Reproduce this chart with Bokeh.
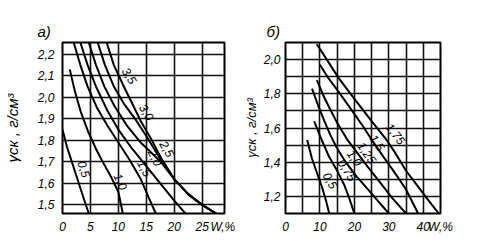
from bokeh.plotting import figure
from bokeh.layouts import row
from bokeh.models import FixedTicker, CustomJSTickFormatter
from bokeh.embed import file_html
from bokeh.resources import INLINE
from bokeh.core.properties import value
import math

FONT = "Liberation Sans"

# ---------------- panel a) ----------------
a_x_ticks = [0, 5, 10, 15, 20, 25]
a_y_ticks = [1.5, 1.6, 1.7, 1.8, 1.9, 2.0, 2.1, 2.2]

a05_w = [0, 0.8, 1.8, 2.8, 3.8, 4.7]
a05_g = [1.85, 1.77, 1.69, 1.61, 1.53, 1.46]
a10_w = [1.3, 2.2, 3.3, 4.6, 6.0, 7.2, 8.7, 10.0, 10.8]
a10_g = [2.13, 2.03, 1.93, 1.84, 1.76, 1.70, 1.63, 1.56, 1.46]
a15_w = [2.0, 3.2, 4.5, 6.2, 8.0, 10.0, 12.0, 14.0, 15.5, 16.7]
a15_g = [2.255, 2.15, 2.05, 1.95, 1.87, 1.79, 1.71, 1.62, 1.53, 1.46]
a20_w = [3.2, 4.5, 6.0, 8.0, 10.0, 12.5, 15.0, 17.5, 20.0, 22.0]
a20_g = [2.255, 2.15, 2.05, 1.94, 1.85, 1.76, 1.68, 1.60, 1.52, 1.46]
a25_w = [4.7, 6.0, 7.5, 9.3, 11.5, 14.0, 16.0, 17.6, 20.0, 22.5, 25.0, 27.5]
a25_g = [2.255, 2.15, 2.05, 1.96, 1.87, 1.79, 1.74, 1.70, 1.62, 1.55, 1.50, 1.46]
a30_w = [6.3, 7.6, 9.2, 11.0, 13.0, 15.0, 17.6, 20.0, 22.5, 25.0, 27.5]
a30_g = [2.255, 2.15, 2.05, 1.97, 1.90, 1.82, 1.71, 1.62, 1.55, 1.50, 1.46]
a35_w = [7.9, 9.2, 10.8, 12.5, 14.0, 16.0, 17.6, 20.0, 22.5, 25.0, 27.5]
a35_g = [2.255, 2.15, 2.06, 1.97, 1.89, 1.80, 1.72, 1.62, 1.55, 1.50, 1.46]

a_lab_text = ["0,5", "1,0", "1,5", "2,0", "2,5", "3,0", "3,5"]
a_lab_w = [3.1, 9.7, 14.0, 15.9, 18.0, 14.4, 11.3]
a_lab_g = [1.66, 1.60, 1.66, 1.71, 1.75, 1.92, 2.09]
a_lab_ang = [-72, -66, -62, -62, -60, -58, -58]

# ---------------- panel б) ----------------
b_x_ticks = [0, 10, 20, 30, 40]
b_x_minor = [5, 15, 25, 35, 45]
b_y_ticks = [1.2, 1.4, 1.6, 1.8, 2.0]
b_y_minor = [1.1, 1.3, 1.5, 1.7, 1.9, 2.1]

b050_w = [6.3, 7.7, 9.1, 10.5, 11.7, 12.7]
b050_g = [1.53, 1.42, 1.34, 1.26, 1.18, 1.10]
b075_w = [8.3, 10.5, 12.7, 15.0, 17.0, 18.5, 20.0]
b075_g = [1.64, 1.53, 1.43, 1.35, 1.27, 1.19, 1.10]
b100_w = [7.7, 9.5, 11.3, 13.0, 15.0, 17.5, 20.5, 24.0, 27.0, 30.0]
b100_g = [1.83, 1.73, 1.64, 1.56, 1.48, 1.40, 1.32, 1.24, 1.17, 1.10]
b125_w = [9.1, 11.0, 12.7, 15.0, 18.0, 21.0, 24.0, 27.5, 31.0, 35.0]
b125_g = [1.88, 1.79, 1.72, 1.63, 1.53, 1.45, 1.37, 1.28, 1.19, 1.10]
b150_w = [10.0, 12.5, 15.5, 19.0, 22.5, 25.4, 28.5, 32.0, 35.0, 38.5]
b150_g = [1.97, 1.89, 1.81, 1.71, 1.61, 1.52, 1.43, 1.33, 1.24, 1.10]
b175_w = [9.1, 12.0, 15.5, 20.0, 25.0, 29.0, 32.0, 35.0, 38.0, 41.0, 44.5]
b175_g = [2.09, 2.00, 1.89, 1.77, 1.64, 1.54, 1.45, 1.35, 1.27, 1.19, 1.10]

b_lab_text = ["0,5", "0,75", "1,0", "1,25", "1,5", "1,75"]
b_lab_w = [11.9, 16.8, 19.0, 22.6, 25.6, 31.0]
b_lab_g = [1.28, 1.34, 1.41, 1.44, 1.50, 1.55]
b_lab_ang = [-60, -57, -55, -55, -55, -52]

Y_TITLE = "γск , г/см³"
X_TITLE = "W,%"


def style(p):
    p.background_fill_color = "white"
    p.border_fill_color = "white"
    p.outline_line_color = "black"
    p.outline_line_width = 2
    for ax in (p.xaxis, p.yaxis):
        ax.axis_line_color = None
        ax.major_tick_line_color = None
        ax.minor_tick_line_color = None
        ax.major_tick_out = 0
        ax.major_tick_in = 0
        ax.minor_tick_out = 0
        ax.minor_tick_in = 0
        ax.major_label_text_font = FONT
        ax.major_label_text_font_style = "italic"
        ax.major_label_text_font_size = "12px"
        ax.major_label_text_color = "black"
        ax.axis_label_text_font = FONT
        ax.axis_label_text_font_style = "italic"
        ax.axis_label_text_color = "black"
    p.xaxis.major_label_standoff = 6
    p.yaxis.major_label_standoff = 8
    for g in (p.xgrid, p.ygrid):
        g.grid_line_color = "#111111"
        g.grid_line_width = 1.6
        g.minor_grid_line_color = "#111111"
        g.minor_grid_line_width = 1.6
    p.title.text_font = FONT
    p.title.text_font_style = "italic"
    p.title.text_font_size = "15px"
    p.title.text_color = "black"
    p.title.align = "left"
    p.title.standoff = 6


# ---------- figure a ----------
pa = figure(width=240, height=245, x_range=(0, 29), y_range=(1.46, 2.255),
            output_backend="svg", toolbar_location=None, title="a)",
            min_border_left=62, min_border_right=16, min_border_top=42,
            min_border_bottom=30)
style(pa)
pa.title.offset = -25
gx = FixedTicker(ticks=a_x_ticks)
ty = FixedTicker(ticks=a_y_ticks)
pa.xaxis.ticker = FixedTicker(ticks=a_x_ticks + [28.7])
pa.xaxis.formatter = CustomJSTickFormatter(
    args=dict(t=X_TITLE),
    code="return tick > 27 ? t : tick.toFixed(0);")
pa.yaxis.ticker = ty
pa.xgrid.ticker = gx
pa.ygrid.ticker = ty
pa.yaxis.formatter = CustomJSTickFormatter(code="return tick.toFixed(1).replace('.', ',');")
pa.yaxis.axis_label = Y_TITLE
pa.yaxis.axis_label_text_font_size = "15px"
pa.yaxis.axis_label_standoff = 14

for w, g in [(a05_w, a05_g), (a10_w, a10_g), (a15_w, a15_g), (a20_w, a20_g),
             (a25_w, a25_g), (a30_w, a30_g), (a35_w, a35_g)]:
    pa.line(w, g, line_color="black", line_width=2)

pa.text(x=a_lab_w, y=a_lab_g, text=a_lab_text,
        angle=[math.radians(a) for a in a_lab_ang],
        text_font=value(FONT), text_font_style="italic", text_font_size="12px",
        text_color="black", text_align="center", text_baseline="bottom")

# ---------- figure б ----------
pb = figure(width=239, height=245, x_range=(0, 45), y_range=(1.1, 2.1),
            output_backend="svg", toolbar_location=None, title="б)",
            min_border_left=37, min_border_right=39, min_border_top=42,
            min_border_bottom=32)
style(pb)
pb.title.offset = -19
bx = FixedTicker(ticks=b_x_ticks, minor_ticks=b_x_minor)
by = FixedTicker(ticks=b_y_ticks, minor_ticks=b_y_minor)
pb.xaxis.ticker = FixedTicker(ticks=b_x_ticks + [45])
pb.xaxis.formatter = CustomJSTickFormatter(
    args=dict(t=X_TITLE),
    code="return tick > 42 ? t : tick.toFixed(0);")
pb.yaxis.ticker = by
pb.xgrid.ticker = bx
pb.ygrid.ticker = by
pb.yaxis.formatter = CustomJSTickFormatter(code="return tick.toFixed(1).replace('.', ',');")
pb.yaxis.major_label_standoff = 5
pb.yaxis.axis_label = Y_TITLE
pb.yaxis.axis_label_text_font_size = "13px"
pb.yaxis.axis_label_standoff = 2

for w, g in [(b050_w, b050_g), (b075_w, b075_g), (b100_w, b100_g),
             (b125_w, b125_g), (b150_w, b150_g), (b175_w, b175_g)]:
    pb.line(w, g, line_color="black", line_width=2)

pb.text(x=b_lab_w, y=b_lab_g, text=b_lab_text,
        angle=[math.radians(a) for a in b_lab_ang],
        text_font=value(FONT), text_font_style="italic", text_font_size="12px",
        text_color="black", text_align="center", text_baseline="bottom")

layout = row(pa, pb)
open("out.html", "w").write(file_html(layout, INLINE))
